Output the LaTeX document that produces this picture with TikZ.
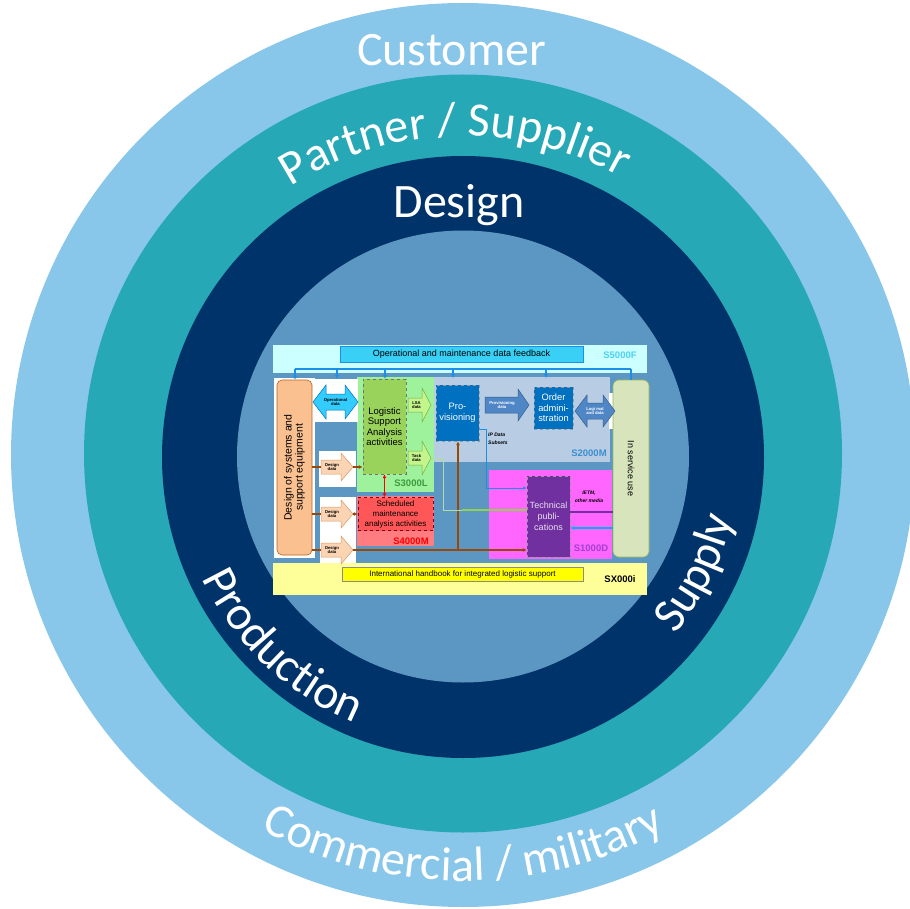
\documentclass[tikz,border=0pt]{standalone}
\usepackage{fontspec}
\setmainfont{Liberation Sans}
\newfontfamily\calib{Carlito}
\usetikzlibrary{decorations.text,arrows.meta}
\definecolor{ringA}{HTML}{88C6EA}
\definecolor{ringB}{HTML}{27A8B7}
\definecolor{ringC}{HTML}{003369}
\definecolor{ringD}{HTML}{5B97C2}
\definecolor{bandcyan}{HTML}{CCFFFF}
\definecolor{fbfill}{HTML}{3ACFF5}
\definecolor{bandyellow}{HTML}{FFFF99}
\definecolor{ihfill}{HTML}{FFFF00}
\definecolor{sthreefill}{HTML}{9FF29C}
\definecolor{stwofill}{HTML}{B8CCE4}
\definecolor{sfourfill}{HTML}{FF7C80}
\definecolor{sonefill}{HTML}{FF66FF}
\definecolor{lsafill}{HTML}{99D35B}
\definecolor{provfill}{HTML}{0070C0}
\definecolor{tpfill}{HTML}{7030A0}
\definecolor{smafill}{HTML}{FF5757}
\definecolor{orgfill}{HTML}{FAC090}
\definecolor{orgdraw}{HTML}{B5651D}
\definecolor{isfill}{HTML}{D8E4BC}
\definecolor{isdraw}{HTML}{9BBB59}
\definecolor{ddfill}{HTML}{FBD4B4}
\definecolor{dddraw}{HTML}{D99A6C}
\definecolor{lgfill}{HTML}{C4F58C}
\definecolor{lgdraw}{HTML}{70AD47}
\definecolor{opfill}{HTML}{33CCFF}
\definecolor{opdraw}{HTML}{0070C0}
\definecolor{pdfill}{HTML}{4F86C6}
\definecolor{busblue}{HTML}{1E8FE6}
\definecolor{brn}{HTML}{984807}
\definecolor{grn}{HTML}{92D050}
\definecolor{palegrn}{HTML}{B5DDA0}
\definecolor{sfivetxt}{HTML}{4DD2F5}
\definecolor{stwotxt}{HTML}{3A8FD0}
\definecolor{sthreetxt}{HTML}{3C9A3C}
\definecolor{sonetxt}{HTML}{A040D0}
\definecolor{cyanln}{HTML}{00B0F0}
\tikzset{
  ringtext/.style={decorate, decoration={text along path, text align=center,
     text={|\calib\fontsize{48}{48}\selectfont\color{white}|#1}}},
  bigword/.style={font=\calib\fontsize{48}{48}\selectfont, text=white, anchor=base, inner sep=0},
  regionlbl/.style={font=\fontsize{9.5}{10}\selectfont\bfseries, inner sep=0},
  tinytxt/.style={font=\fontsize{4.2}{4.7}\selectfont\bfseries, align=center, inner sep=0},
  smallbi/.style={font=\fontsize{5}{7.5}\selectfont\bfseries\itshape, align=left, inner sep=0},
  blockbox/.style={inner sep=0, align=center, font=\fontsize{9.5}{10.5}\selectfont},
  busln/.style={busblue, line width=1.3},
  bustip/.style={busblue, line width=1.3, -{Latex[length=4,width=4.5]}},
  brnln/.style={brn, line width=1.6},
  brntip/.style={brn, line width=1.6, -{Latex[length=4,width=4]}},
  ddarrow/.style={fill=ddfill, draw=dddraw, line width=0.5},
  lgarrow/.style={fill=lgfill, draw=lgdraw, line width=0.5},
}
\begin{document}
\begin{tikzpicture}[x=1pt,y=1pt]
\useasboundingbox (0,0) rectangle (910,-909);
% rings
\fill[ringA] (463,-455) circle[radius=452];
\fill[ringB] (463,-453.5) circle[radius=379];
\fill[ringC] (463,-457) circle[radius=301];
\fill[ringD] (463,-456.5) circle[radius=226];
% ring labels
\node[bigword] (cust) at (451.5,-66) {Customer};
\node[bigword] (dsg) at (459,-218) {Design};
\path[ringtext={Partner / Supplier}, shift={(463,-456)}] (136.5:320) arc[start angle=136.5, end angle=46.5, radius=320];
\path[ringtext={Production}, shift={(463,-456)}] (181.5:288) arc[start angle=181.5, end angle=271.5, radius=288];
\path[ringtext={Supply}, shift={(463,-456)}] (293.5:277) arc[start angle=293.5, end angle=373.5, radius=277];
\path[ringtext={Commercial / military}, shift={(463,-456)}] (215:425) arc[start angle=215, end angle=325, radius=425];

% ===== inner diagram =====
% bands
\fill[bandcyan] (273,-345) rectangle (647,-373);
\fill[bandyellow] (273,-563) rectangle (647,-595);
\node[draw=busblue, line width=0.4, fill=fbfill, minimum width=243, minimum height=16, inner sep=0,
      font=\fontsize{9}{10}\selectfont] (fb) at (461.5,-354) {Operational and maintenance data feedback};
\node[regionlbl, text=sfivetxt] (sfive) at (620,-355) {S5000F};
\node[draw=black!45, line width=0.4, fill=ihfill, minimum width=241, minimum height=14, inner sep=0,
      font=\fontsize{8}{9}\selectfont] (ih) at (462.5,-574) {International handbook for integrated logistic support};
\node[regionlbl] (sx) at (620,-579) {SX000i};
% regions
\fill[sthreefill] (357,-377) rectangle (434,-492);
\fill[stwofill] (434,-377) rectangle (610,-462);
\fill[sfourfill] (357,-496) rectangle (434,-546);
\fill[sonefill] (489,-470) rectangle (612,-559);
\fill[white] (274,-378) rectangle (315,-558);
\fill[white] (312,-379) rectangle (358,-422);
\fill[white] (319,-451) rectangle (356,-487);
\fill[white] (320,-497) rectangle (356,-563);
\fill[white] (609,-393) rectangle (614,-429);
\node[regionlbl, text=stwotxt] (stwo) at (589,-453) {S2000M};
\node[regionlbl, text=sthreetxt] (sthree) at (411,-483) {S3000L};
\node[regionlbl, text=red] (sfour) at (411,-541) {S4000M};
\node[regionlbl, text=sonetxt] (sone) at (591,-548) {S1000D};

% blocks
\node[draw=orgdraw, fill=orgfill, line width=0.6, rounded corners=5, rotate=90, minimum width=175, minimum height=35,
      inner sep=0, align=center, font=\fontsize{10.5}{11}\selectfont] (dsn) at (294.5,-467.5) {Design of systems and\\support equipment};
\node[draw=isdraw, fill=isfill, line width=0.6, rounded corners=6, rotate=-90, minimum width=177, minimum height=36,
      inner sep=0, font=\fontsize{9}{10}\selectfont] (isu) at (631,-468.5) {In service use};
\node[blockbox, fill=lsafill, draw=black!55, dashed, line width=0.4, minimum width=43, minimum height=95,
      font=\fontsize{9.5}{10.3}\selectfont] (lsa) at (384.5,-426.5) {Logistic\\Support\\Analysis\\activities};
\node[blockbox, fill=provfill, draw=black!40, dashed, line width=0.4, minimum width=43, minimum height=56, text=white,
      font=\fontsize{9.3}{11}\selectfont] (prov) at (457.5,-413) {Pro-\\visioning};
\node[blockbox, fill=provfill, draw=black!40, dashed, line width=0.4, minimum width=39, minimum height=42, text=white,
      font=\fontsize{9.3}{10.5}\selectfont] (ord) at (553.5,-408) {Order\\admini-\\stration};
\node[blockbox, fill=tpfill, draw=black!40, dashed, line width=0.4, minimum width=43, minimum height=81, text=white!85!tpfill,
      font=\fontsize{9}{11}\selectfont] (tp) at (548.5,-516.5) {Technical\\publi-\\cations};
\node[blockbox, fill=smafill, draw=purple!60!black, dashed, line width=0.4, minimum width=75, minimum height=33,
      font=\fontsize{8}{10}\selectfont] (sma) at (395.5,-514) {Scheduled\\maintenance\\analysis activities};

% arrow shapes
\filldraw[fill=opfill, draw=opdraw, line width=0.5] (313,-402) -- (326,-385) -- (326,-394) -- (345,-394) -- (345,-385) -- (358,-402)
   -- (345,-419) -- (345,-410) -- (326,-410) -- (326,-419) -- cycle;
\node[tinytxt] (opd) at (335.5,-402) {Operational\\data};
\filldraw[lgarrow] (408,-398) -- (422,-398) -- (422,-388) -- (431,-405) -- (422,-422) -- (422,-412) -- (408,-412) -- cycle;
\node[tinytxt] (lsad) at (416.5,-405) {LSA\\data};
\filldraw[lgarrow] (408,-451) -- (422,-451) -- (422,-441) -- (431,-458) -- (422,-475) -- (422,-465) -- (408,-465) -- cycle;
\node[tinytxt] (taskd) at (416.5,-458) {Task\\data};
\filldraw[fill=pdfill, draw=pdfill!70!black, line width=0.5] (485,-397) -- (518,-397) -- (518,-389) -- (529,-405) -- (518,-421) -- (518,-413) -- (485,-413) -- cycle;
\node[tinytxt, text=white] (provd) at (502,-405) {Provisioning\\data};
\filldraw[fill=pdfill, draw=pdfill!70!black, line width=0.5] (575,-411) -- (587,-395) -- (587,-403) -- (603,-403) -- (603,-395) -- (615,-411)
   -- (603,-427) -- (603,-419) -- (587,-419) -- (587,-427) -- cycle;
\node[tinytxt, text=white] (logd) at (595,-411) {Logi mat\\and data};
% design data arrows
\foreach \yc/\nm in {467/dda, 514/ddb, 550/ddc}{
  \filldraw[ddarrow] (321,-\yc+7) -- (341,-\yc+7) -- (341,-\yc+14) -- (353,-\yc) -- (341,-\yc-14) -- (341,-\yc-7) -- (321,-\yc-7) -- cycle;
  \node[tinytxt] (\nm) at (332,-\yc) {Design\\data};
  \coordinate (\nm T) at (321,-\yc);
  \coordinate (\nm H) at (353,-\yc);
}

% texts
\node[smallbi, anchor=north west] (ipd) at (488,-433) {IP Data\\Subsets};
\node[smallbi, align=center] (ietm) at (589,-497) {IETM,\\other media};

% feedback bus
\coordinate (bA) at (295,-369);
\coordinate (bB) at (337,-369);
\coordinate (bC) at (385,-369);
\coordinate (bD) at (453,-369);
\coordinate (bE) at (546,-369);
\coordinate (bF) at (631,-369);
\draw[busln] (bA) -- (bF);
\draw[bustip] (bA) -- (bA |- dsn.east);
\draw[bustip] (bB) -- (337,-379);
\draw[bustip] (bC) -- (bC |- lsa.north);
\draw[bustip] (bD) -- (453,-378);
\draw[bustip] (bE) -- (546,-378);
\draw[busln] (bF) -- (bF |- isu.west);

% brown design-data connectors
\draw[brnln] (dsn.south |- ddaT) -- (ddaT);
\draw[brntip] (ddaH) -- (lsa.west |- ddaH);
\draw[brnln] (dsn.south |- ddbT) -- (ddbT);
\draw[brntip] (ddbH) -- (sma.west |- ddbH);
\draw[brnln] (dsn.south |- ddcT) -- (ddcT);
\draw[brntip] (ddcH) -- (tp.west |- ddcH);
\coordinate (jn) at (458,-550);
\draw[brntip] (jn) -- (prov.south -| jn);

% red double arrow
\draw[red, line width=1.6, {Latex[length=4,width=4]}-{Latex[length=4,width=4]}] (lsa.south) -- (lsa.south |- sma.north);

% blue line provisioning -> tech pubs
\coordinate (pv1) at (479,-429);
\coordinate (pv2) at (486,-429);
\coordinate (pv3) at (486,-488);
\draw[busblue, line width=0.9, -{Latex[length=3.5,width=3.5]}] (pv1) -- (pv2) -- (pv3) -- (tp.west |- pv3);

% green line task data -> tech pubs
\coordinate (g1) at (431,-458);
\coordinate (g2) at (443,-458);
\coordinate (g3) at (443,-510);
\coordinate (g4) at (462,-510);
\draw[palegrn, line width=1] (g1) -- (g2) -- (g3) -- (g4);
\draw[grn, line width=2] (g4) -- (tp.west |- g4);

% in-service links
\coordinate (pu) at (615,-512);
\coordinate (cy) at (615,-528);
\draw[tpfill, line width=2.5] (isu.south |- pu) -- (tp.east |- pu);
\draw[cyanln, line width=1.2, -{Latex[length=4,width=4]}] (isu.south |- cy) -- (tp.east |- cy);
\end{tikzpicture}
\end{document}
